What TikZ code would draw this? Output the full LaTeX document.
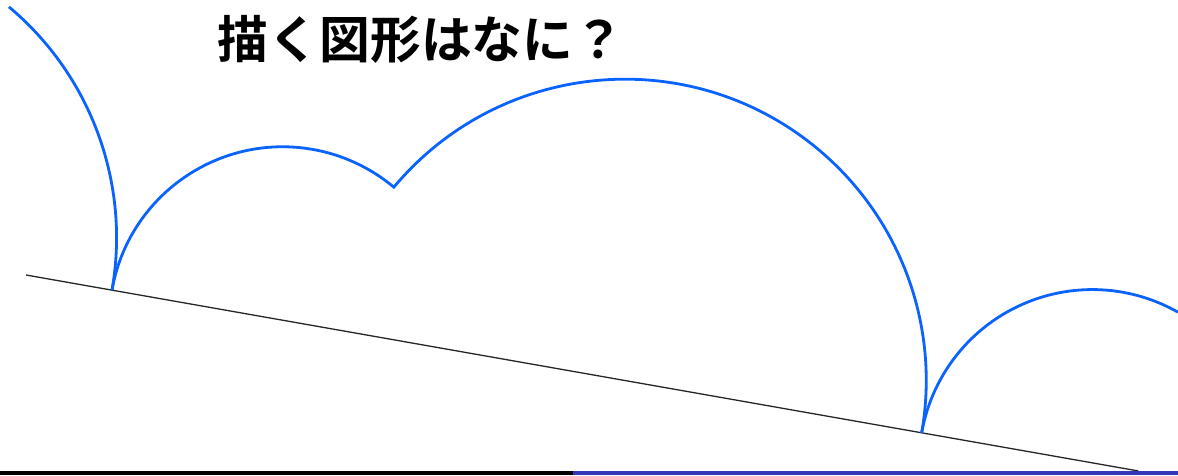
\documentclass[tikz,border=0pt]{standalone}
\usepackage{fontspec}
\usetikzlibrary{calc}
\newfontfamily\jpfont{Noto Sans CJK JP}[BoldFont={* Bold}]
\definecolor{arcblue}{HTML}{0A62FF}
\definecolor{barblue}{HTML}{3434BC}
\begin{document}
\begin{tikzpicture}[x=1pt,y=1pt,
  ground/.style={draw=black!85,line width=1.3pt},
  trace/.style={draw=arcblue,line width=2.8pt,line join=miter},
  bar/.style={fill=#1,draw=none}]
\useasboundingbox (0,0) rectangle (1178,475);
\def\ra{173.3}
\def\rb{301.3}
\def\rc{347.58}
\def\rL{822.18}
\coordinate (P0) at (112,185);
\coordinate (B) at ($(P0)+(-10:\ra)$);
\coordinate (C) at ($(P0)+(-10:520.88)$);
\coordinate (P1) at ($(P0)+(-10:\rL)$);
\coordinate (Cprev) at ($(C)+(170:\rL)$);
\coordinate (Bnext) at ($(B)+(-10:\rL)$);
\coordinate (gl) at (26,200);
\coordinate (gr) at ($(P0)+(-10:1042)$);
% ground line
\draw[ground] (gl) -- (gr);
% traced path of the vertex
\draw[trace] ($(Cprev)+(50:\rb)$) arc[start angle=50,end angle=-10,radius=\rb];
\draw[trace] (P0) arc[start angle=170,end angle=50.09,radius=\ra]
  arc[start angle=140.09,end angle=-10,radius=\rb];
\draw[trace] (P1) arc[start angle=170,end angle=60.4,radius=\ra];
% title
\node[font=\jpfont\bfseries\fontsize{50.8}{50.8}\selectfont,inner sep=0pt] (title) at (421,436) {描く図形はなに？};
% bottom bar
\fill[bar=black] (0,0) rectangle (573,4);
\fill[bar=barblue] (573,0) rectangle (1178,4);
\end{tikzpicture}
\end{document}
